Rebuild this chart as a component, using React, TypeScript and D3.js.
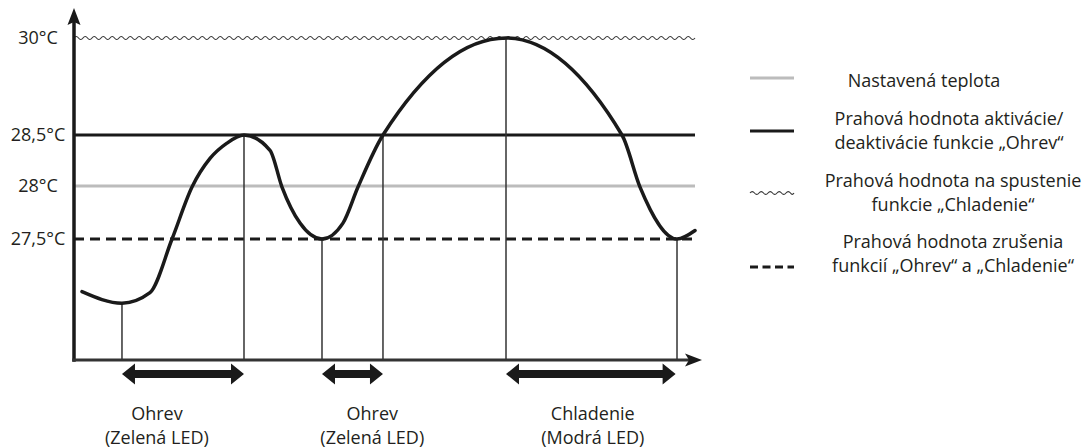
import React from "react";
import * as d3 from "d3";

// ---- Data ----
// Temperature reference levels (°C)
const levelSetpoint = 28;
const levelHeat = 28.5;
const levelCool = 30;
const levelCancel = 27.5;

const yTickValues = [30, 28.5, 28, 27.5];
const yTickLabels = ["30°C", "28,5°C", "28°C", "27,5°C"];

// Temperature curve: time (arbitrary units 0..100) and temperature (°C)
const curveTime = [1.27, 7.64, 12.1, 15.61, 18.79, 21.66, 24.36, 27.07, 31.21, 33.12, 35.99, 39.49, 42.83, 45.22, 49.2, 68.79, 87.26, 90.13, 96.02, 98.89];
const curveTemp = [27.0, 26.89, 26.99, 27.5, 27.99, 28.27, 28.42, 28.5, 28.35, 27.99, 27.65, 27.5, 27.65, 27.99, 28.5, 30.0, 28.5, 27.99, 27.5, 27.58];

// Event markers (time) where vertical lines drop to the axis
const markerTimes = [7.64, 27.07, 39.49, 49.2, 68.79, 96.02];

// Double-arrow periods (start, end times)
const periodStart = [7.64, 39.49, 68.79];
const periodEnd = [27.07, 49.2, 95.8];
const periodLabel1 = ["Ohrev", "Ohrev", "Chladenie"];
const periodLabel2 = ["(Zelená LED)", "(Zelená LED)", "(Modrá LED)"];
const periodLabelTime = [13.2, 47.5, 82.6];

// Legend
const legendKinds = ["setpoint", "heat", "cool", "cancel"];
const legendLines1 = ["Nastavená teplota", "Prahová hodnota aktivácie/", "Prahová hodnota na spustenie", "Prahová hodnota zrušenia"];
const legendLines2 = ["", "deaktivácie funkcie „Ohrev“", "funkcie „Chladenie“", "funkcií „Ohrev“ a „Chladenie“"];

const W = 1091;
const H = 448;
const FONT = "'Open Sans', sans-serif";

export default function App() {
  const x0 = 74;
  const xAxisEnd = 702;
  const lineEnd = 695;
  const yAxisY = 360;

  const x = d3.scaleLinear().domain([0, 100]).range([x0, xAxisEnd]);
  const y = d3.scaleLinear().domain([26.35, 27.5, 28, 28.5, 30]).range([yAxisY, 239, 186, 135, 38]);

  const pts: [number, number][] = curveTime.map((t, i) => [t, curveTemp[i]]);
  const line = d3
    .line<[number, number]>()
    .x((d) => x(d[0]))
    .y((d) => y(d[1]))
    .curve(d3.curveMonotoneX);

  const tempAt = (t: number) => {
    const i = curveTime.indexOf(t);
    return i >= 0 ? curveTemp[i] : levelCancel;
  };

  // wavy line path
  const wavy = (xa: number, xb: number, yy: number, period = 9, amp = 1.5) => {
    let d = `M${xa},${yy}`;
    let cx = xa;
    let up = true;
    while (cx < xb) {
      const nx = Math.min(cx + period / 2, xb);
      d += ` Q${(cx + nx) / 2},${yy + (up ? -amp * 2 : amp * 2)} ${nx},${yy}`;
      cx = nx;
      up = !up;
    }
    return d;
  };

  const doubleArrow = (xa: number, xb: number, yy: number) => {
    const sh = 4, hh = 10.5, hl = 13;
    const p = [
      [xa, yy], [xa + hl, yy - hh], [xa + hl, yy - sh], [xb - hl, yy - sh], [xb - hl, yy - hh],
      [xb, yy], [xb - hl, yy + hh], [xb - hl, yy + sh], [xa + hl, yy + sh], [xa + hl, yy + hh],
    ];
    return "M" + p.map((q) => q.join(",")).join("L") + "Z";
  };

  const legendY = [78, 131, 193, 267];
  const legendTextCenter = [924, 949, 953, 953];
  const legendText1Y = [81, 119, 181, 242];
  const legendGap = 24;

  return (
    <svg width={W} height={H} style={{ position: "absolute", left: 0, top: 0, background: "#fff" }} fontFamily={FONT}>
      {/* reference lines */}
      <line x1={x0} x2={lineEnd} y1={y(levelSetpoint)} y2={y(levelSetpoint)} stroke="#bcbcbc" strokeWidth={3} />
      <line x1={x0} x2={lineEnd} y1={y(levelHeat)} y2={y(levelHeat)} stroke="#1a1a1a" strokeWidth={3} />
      <line x1={x0} x2={lineEnd} y1={y(levelCancel)} y2={y(levelCancel)} stroke="#1a1a1a" strokeWidth={3} strokeDasharray="10 6" />
      <path d={wavy(x0, lineEnd, y(levelCool))} fill="none" stroke="#333" strokeWidth={1.1} />

      {/* vertical markers */}
      {markerTimes.map((t, i) => (
        <line key={i} x1={x(t)} x2={x(t)} y1={y(tempAt(t))} y2={yAxisY} stroke="#333" strokeWidth={1.5} />
      ))}

      {/* curve */}
      <path d={line(pts) || ""} fill="none" stroke="#1a1a1a" strokeWidth={3.5} strokeLinecap="round" />

      {/* axes */}
      <line x1={x0} x2={x0} y1={22} y2={yAxisY + 1.75} stroke="#1a1a1a" strokeWidth={3.5} />
      <path d={`M${x0},8 L${x0 + 6.5},25 L${x0},22 L${x0 - 6.5},25 Z`} fill="#1a1a1a" />
      <line x1={x0 - 1.75} x2={xAxisEnd - 12} y1={yAxisY} y2={yAxisY} stroke="#333" strokeWidth={3} />
      <path d={`M${xAxisEnd},${yAxisY} L${xAxisEnd - 17},${yAxisY - 6.5} L${xAxisEnd - 13},${yAxisY} L${xAxisEnd - 17},${yAxisY + 6.5} Z`} fill="#1a1a1a" />

      {/* y labels */}
      {yTickValues.map((v, i) => (
        <text key={i} x={38} y={y(v)} dy="0.35em" textAnchor="middle" fontSize={18} fill="#231f20">
          {yTickLabels[i]}
        </text>
      ))}

      {/* period arrows & labels */}
      {periodStart.map((s, i) => (
        <g key={i}>
          <path d={doubleArrow(x(s), x(periodEnd[i]), 374)} fill="#1a1a1a" />
          <text x={x(periodLabelTime[i])} y={420} textAnchor="middle" fontSize={18} fill="#231f20">{periodLabel1[i]}</text>
          <text x={x(periodLabelTime[i])} y={444} textAnchor="middle" fontSize={18} fill="#231f20">{periodLabel2[i]}</text>
        </g>
      ))}

      {/* legend */}
      {legendKinds.map((k, i) => {
        const ly = legendY[i];
        let sym;
        if (k === "setpoint") sym = <line x1={750} x2={794} y1={ly} y2={ly} stroke="#bcbcbc" strokeWidth={3} />;
        else if (k === "heat") sym = <line x1={750} x2={794} y1={ly} y2={ly} stroke="#1a1a1a" strokeWidth={3} />;
        else if (k === "cool") sym = <path d={wavy(750, 794, ly, 9, 1.4)} fill="none" stroke="#333" strokeWidth={1.1} />;
        else sym = <line x1={750} x2={794} y1={ly} y2={ly} stroke="#1a1a1a" strokeWidth={3} strokeDasharray="8 4.5" />;
        return (
          <g key={k}>
            {sym}
            <text x={legendTextCenter[i]} y={legendText1Y[i]} dy="0.35em" textAnchor="middle" fontSize={18} fill="#231f20">
              {legendLines1[i]}
            </text>
            {legendLines2[i] && (
              <text x={legendTextCenter[i]} y={legendText1Y[i] + legendGap} dy="0.35em" textAnchor="middle" fontSize={18} fill="#231f20">
                {legendLines2[i]}
              </text>
            )}
          </g>
        );
      })}
    </svg>
  );
}
